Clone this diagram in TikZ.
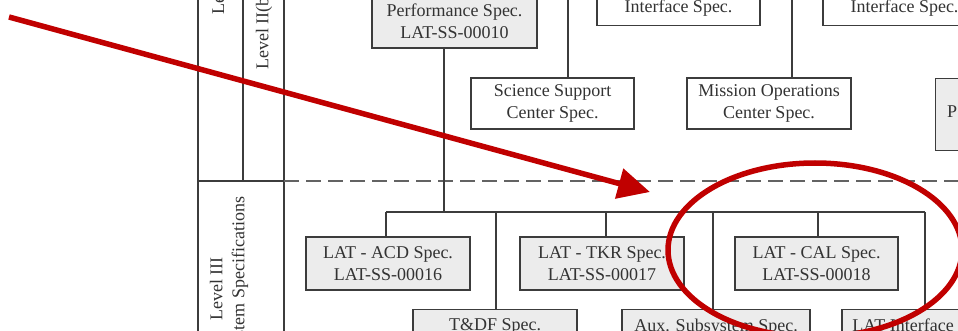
\documentclass[tikz,border=0pt]{standalone}
\usepackage{fontspec}
\setmainfont{Liberation Serif}
\usetikzlibrary{arrows.meta}

\definecolor{boxline}{HTML}{3C3C3C}
\definecolor{boxfill}{HTML}{ECECEC}
\definecolor{inkgray}{HTML}{333333}
\definecolor{markred}{HTML}{C00000}
\newcommand\specfont{\fontsize{18}{22}\selectfont}

\tikzset{
  specbox/.style={draw=boxline, line width=1.3pt, fill=white, align=center,
    font=\specfont, text=inkgray, inner sep=0pt, minimum height=53pt},
  specgray/.style={specbox, fill=boxfill},
  link/.style={draw=boxline, line width=1.3pt},
  dashline/.style={draw=boxline!80, line width=1.3pt, dash pattern=on 15pt off 7pt},
  levellabel/.style={rotate=90, font=\specfont, text=inkgray, inner sep=0pt, align=center},
  redmark/.style={draw=markred, line width=5.5pt}
}

\begin{document}
\begin{tikzpicture}[x=1pt, y=-1pt]
  \useasboundingbox (0,0) rectangle (958,331);
  \clip (0,0) rectangle (958,331);

  % Level columns
  \draw[link] (198,-5) -- (198,340);
  \draw[link] (243,-5) -- (243,181);
  \draw[link] (284,-5) -- (284,340);
  \draw[link] (198,181) -- (284,181);
  \draw[dashline] (284,181) -- (965,181);

  \node[levellabel, anchor=west] (lvTop) at (218,15) {Level};
  \node[levellabel, anchor=west] (lvTwo) at (264,70) {Level II(b)};
  \node[levellabel] (lvThree) at (229,289) {Level III\\Subsystem Specifications};

  % Level II(b) boxes
  \node[specgray, minimum width=165pt] (perf) at (454.5,21.5) {Performance Spec.\\LAT-SS-00010};
  \node[specbox, minimum width=163pt, minimum height=0pt, inner ysep=9pt, anchor=south] (ifaceA) at (678.5,26) {Interface Spec.};
  \node[specbox, minimum width=163pt, minimum height=0pt, inner ysep=9pt, anchor=south] (ifaceB) at (904.5,26) {Interface Spec.};
  \node[specbox, minimum width=163pt, minimum height=51pt] (ssc) at (552.5,103.5) {Science Support\\Center Spec.};
  \node[specbox, minimum width=164pt, minimum height=51pt] (moc) at (769,103.5) {Mission Operations\\Center Spec.};
  \node[specgray, minimum width=80pt, minimum height=72pt, anchor=north west] (psub) at (935,78) {};
  \node[font=\specfont, text=inkgray, inner sep=0pt, anchor=west] (psubText) at (947,112) {P};

  \coordinate (sscIn) at (568,-5);
  \coordinate (mocIn) at (792,-5);
  \draw[link] (sscIn) -- (sscIn |- ssc.north);
  \draw[link] (mocIn) -- (mocIn |- moc.north);

  % Level III boxes
  \node[specgray, minimum width=164pt] (acd) at (388,263.5) {LAT - ACD Spec.\\LAT-SS-00016};
  \node[specgray, minimum width=164pt] (tkr) at (602,263.5) {LAT - TKR Spec.\\LAT-SS-00017};
  \node[specgray, minimum width=163pt] (cal) at (816.5,263.5) {LAT - CAL Spec.\\LAT-SS-00018};
  \node[specgray, minimum width=164pt, minimum height=0pt, inner ysep=9pt, anchor=north] (tdf) at (495,309) {T\&DF Spec.};
  \node[specgray, minimum width=188pt, minimum height=0pt, inner ysep=9pt, anchor=north] (aux) at (716,309) {Aux. Subsystem Spec.};
  \node[specgray, minimum width=166pt, minimum height=0pt, inner ysep=9pt, anchor=north] (lati) at (925,309) {LAT Interface Spec.};

  \coordinate (bus) at (444,212);
  \draw[link] (bus |- perf.south) -- (bus);
  \draw[link] (386,212) -- (925,212);
  \foreach \n/\x in {acd/386, tdf/496, tkr/606, aux/713, cal/818, lati/925}
    \draw[link] (\x,212) coordinate (drop) -- (drop |- \n.north);

  % Red marks
  \draw[redmark, -{Triangle[length=32pt,width=30pt]}] (9,17) -- (650,192);
  \draw[redmark] (815,250) ellipse [x radius=147, y radius=87];
\end{tikzpicture}
\end{document}
